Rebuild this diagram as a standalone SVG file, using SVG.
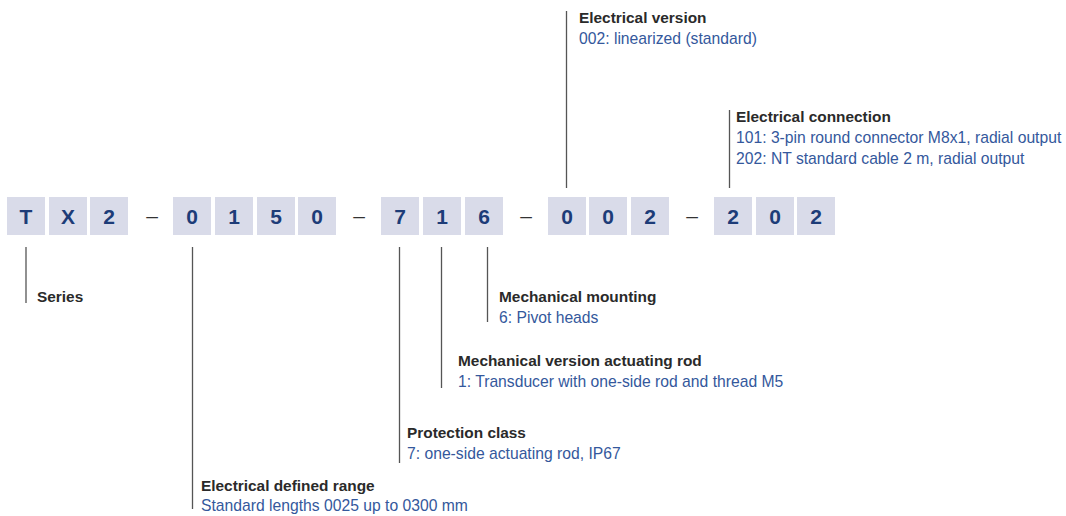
<svg xmlns="http://www.w3.org/2000/svg" width="1066" height="516" viewBox="0 0 1066 516">
<style>
.box{fill:#d9dbe9}
.dg{font-family:"Liberation Sans",Arial,sans-serif;font-size:21px;font-weight:bold;fill:#1d3c78;text-anchor:middle}
.sep{font-family:"Liberation Sans",Arial,sans-serif;font-size:21px;fill:#333;text-anchor:middle}
.t{font-family:"Liberation Sans",Arial,sans-serif;font-size:15.4px;font-weight:bold;fill:#2a2a2a}
.b{font-family:"Liberation Sans",Arial,sans-serif;font-size:15.7px;fill:#34589c}
.ln{stroke:#555;stroke-width:1.3;fill:none}
</style>
<rect width="1066" height="516" fill="#fff"/>
<g id="code">
<rect class="box" x="7" y="197" width="38" height="38"/><text class="dg" x="26" y="224">T</text>
<rect class="box" x="49" y="197" width="38" height="38"/><text class="dg" x="68" y="224">X</text>
<rect class="box" x="90" y="197" width="38" height="38"/><text class="dg" x="109" y="224">2</text>
<text class="sep" x="152" y="223">–</text>
<rect class="box" x="173" y="197" width="38" height="38"/><text class="dg" x="192" y="224">0</text>
<rect class="box" x="215" y="197" width="38" height="38"/><text class="dg" x="234" y="224">1</text>
<rect class="box" x="257" y="197" width="38" height="38"/><text class="dg" x="276" y="224">5</text>
<rect class="box" x="298" y="197" width="38" height="38"/><text class="dg" x="317" y="224">0</text>
<text class="sep" x="359" y="223">–</text>
<rect class="box" x="381" y="197" width="38" height="38"/><text class="dg" x="400" y="224">7</text>
<rect class="box" x="423" y="197" width="38" height="38"/><text class="dg" x="442" y="224">1</text>
<rect class="box" x="465" y="197" width="38" height="38"/><text class="dg" x="484" y="224">6</text>
<text class="sep" x="526" y="223">–</text>
<rect class="box" x="548" y="197" width="38" height="38"/><text class="dg" x="567" y="224">0</text>
<rect class="box" x="589" y="197" width="38" height="38"/><text class="dg" x="608" y="224">0</text>
<rect class="box" x="631" y="197" width="38" height="38"/><text class="dg" x="650" y="224">2</text>
<text class="sep" x="692" y="223">–</text>
<rect class="box" x="714" y="197" width="38" height="38"/><text class="dg" x="733" y="224">2</text>
<rect class="box" x="756" y="197" width="38" height="38"/><text class="dg" x="775" y="224">0</text>
<rect class="box" x="797" y="197" width="38" height="38"/><text class="dg" x="816" y="224">2</text>
</g>
<g id="connectors">
<line class="ln" x1="26" y1="247" x2="26" y2="303" stroke="#333"/>
<line class="ln" x1="192.5" y1="247" x2="192.5" y2="509"/>
<line class="ln" x1="399.5" y1="247" x2="399.5" y2="463"/>
<line class="ln" x1="441.5" y1="247" x2="441.5" y2="388"/>
<line class="ln" x1="487.5" y1="247" x2="487.5" y2="322"/>
<line class="ln" x1="566.5" y1="11" x2="566.5" y2="188" stroke="#333"/>
<line class="ln" x1="729.5" y1="110" x2="729.5" y2="188" stroke="#333"/>
</g>
<g id="series"><text class="t" x="37" y="302">Series</text></g>
<g id="range"><text class="t" x="201" y="491">Electrical defined range</text><text class="b" x="201" y="511">Standard lengths 0025 up to 0300 mm</text></g>
<g id="protection"><text class="t" x="407" y="438">Protection class</text><text class="b" x="407" y="459">7: one-side actuating rod, IP67</text></g>
<g id="mechversion"><text class="t" x="458" y="366">Mechanical version actuating rod</text><text class="b" x="458" y="387">1: Transducer with one-side rod and thread M5</text></g>
<g id="mounting"><text class="t" x="499" y="302">Mechanical mounting</text><text class="b" x="499" y="323">6: Pivot heads</text></g>
<g id="elversion"><text class="t" x="579" y="23">Electrical version</text><text class="b" x="579" y="44">002: linearized (standard)</text></g>
<g id="elconn"><text class="t" x="736" y="122">Electrical connection</text><text class="b" x="736" y="143">101: 3-pin round connector M8x1, radial output</text><text class="b" x="736" y="164">202: NT standard cable 2 m, radial output</text></g>
</svg>
